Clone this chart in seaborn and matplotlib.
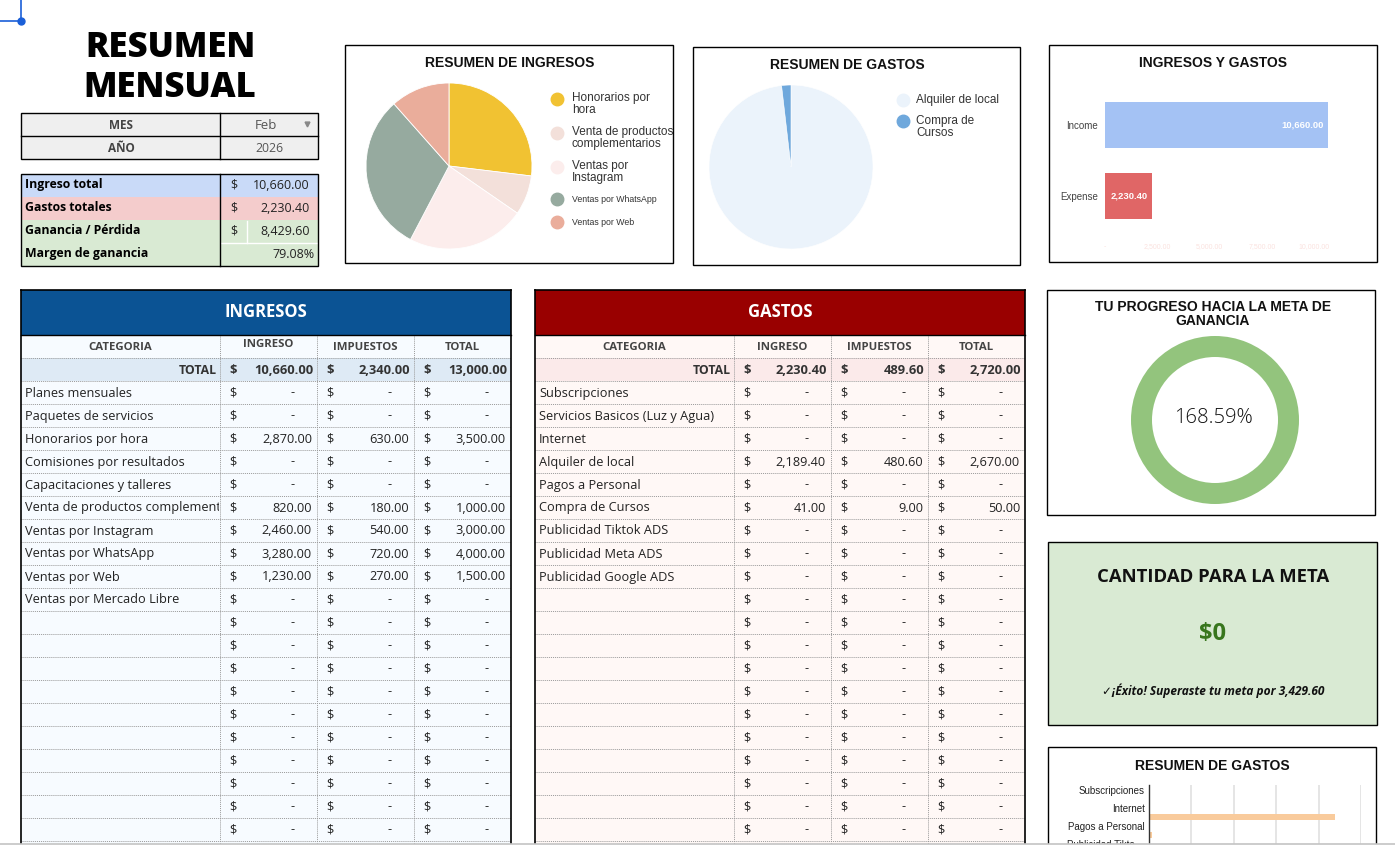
import matplotlib
matplotlib.use("Agg")
import matplotlib.pyplot as plt
from matplotlib.patches import Rectangle
import pandas as pd
import seaborn as sns

W, H = 1395, 850
TFONT = ["Open Sans", "DejaVu Sans"]      # stand-in for Montserrat
CFONT = ["Liberation Sans", "DejaVu Sans"]  # chart font (Arial-like)

# --- data ---
mes = "Feb"
anio = "2026"
meta_ganancia = 5000

ingresos_cats = ["Planes mensuales", "Paquetes de servicios", "Honorarios por hora",
                 "Comisiones por resultados", "Capacitaciones y talleres",
                 "Venta de productos complementarios", "Ventas por Instagram",
                 "Ventas por WhatsApp", "Ventas por Web", "Ventas por Mercado Libre"]
ingresos_ingreso = [0, 0, 2870.00, 0, 0, 820.00, 2460.00, 3280.00, 1230.00, 0]
ingresos_impuestos = [0, 0, 630.00, 0, 0, 180.00, 540.00, 720.00, 270.00, 0]

gastos_cats = ["Subscripciones", "Servicios Basicos (Luz y Agua)", "Internet",
               "Alquiler de local", "Pagos a Personal", "Compra de Cursos",
               "Publicidad Tiktok ADS", "Publicidad Meta ADS", "Publicidad Google ADS"]
gastos_ingreso = [0, 0, 0, 2189.40, 0, 41.00, 0, 0, 0]
gastos_impuestos = [0, 0, 0, 480.60, 0, 9.00, 0, 0, 0]

pie_ing_legend = ["Honorarios por\nhora", "Venta de productos\ncomplementarios",
                  "Ventas por\nInstagram", "Ventas por WhatsApp", "Ventas por Web"]
pie_ing_colors = ["#f1c232", "#f3e0da", "#fcedec", "#96aa9f", "#eaad9b"]
pie_gas_legend = ["Alquiler de local", "Compra de\nCursos"]
pie_gas_colors = ["#ebf3fb", "#6fa8dc"]

bar_labels = ["Income", "Expense"]
bar_colors = ["#a4c2f4", "#e06666"]
bar_ticks = [0, 2500, 5000, 7500, 10000]
gasto_ticks = [0, 500, 1000, 1500, 2000, 2500]

total_ing = sum(ingresos_ingreso)
total_gas = sum(gastos_ingreso)
ganancia = total_ing - total_gas
margen = ganancia / total_ing * 100
progreso = ganancia / meta_ganancia * 100


def money(v):
    return "-" if v == 0 else f"{v:,.2f}"


fig = plt.figure(figsize=(W / 100, H / 100), dpi=100)
bg = fig.add_axes([0, 0, 1, 1], zorder=-1)
bg.set_xlim(0, W)
bg.set_ylim(H, 0)
bg.axis("off")


def px_axes(x0, y0, x1, y1, **kw):
    return fig.add_axes([x0 / W, 1 - y1 / H, (x1 - x0) / W, (y1 - y0) / H], **kw)


def box(x0, y0, x1, y1, fc="none", ec="black", lw=1.0, z=1):
    bg.add_patch(Rectangle((x0, y0), x1 - x0, y1 - y0, facecolor=fc, edgecolor=ec, lw=lw, zorder=z))


def txt(x, y, s, **kw):
    kw.setdefault("family", TFONT)
    kw.setdefault("va", "center")
    kw.setdefault("color", "#222222")
    return bg.text(x, y, s, **kw)


# corner marker
bg.plot([0, 21], [21, 21], color="#1a5fd8", lw=1.2)
bg.plot([21, 21], [0, 21], color="#1a5fd8", lw=1.2)
bg.plot([21], [21], "o", color="#1a5fd8", ms=5)

# --- title ---
txt(170, 48, "RESUMEN", ha="center", fontsize=25, fontweight="heavy", color="black")
txt(170, 88, "MENSUAL", ha="center", fontsize=25, fontweight="heavy", color="black")

# --- mes / año ---
box(21, 113, 318, 159, fc="#efefef", lw=1.0)
bg.plot([21, 318], [136, 136], color="black", lw=1.0)
bg.plot([220, 220], [113, 159], color="black", lw=1.0)
txt(121, 125, "MES", ha="center", fontsize=8.5, fontweight="bold", color="#444444")
txt(121, 148, "AÑO", ha="center", fontsize=8.5, fontweight="bold", color="#444444")
txt(266, 125, mes, ha="center", fontsize=9.5, color="#555555")
txt(269, 148, anio, ha="center", fontsize=8.8, color="#555555")
bg.plot([307], [124], marker="v", color="#888888", ms=3.5)

# --- summary ---
summ_rows = [("Ingreso total", total_ing, "#c9daf8"),
             ("Gastos totales", total_gas, "#f4cccc"),
             ("Ganancia / Pérdida", ganancia, "#d9ead3"),
             ("Margen de ganancia", None, "#d9ead3")]
for i, (lab, val, col) in enumerate(summ_rows):
    ry = 174 + 23 * i
    box(21, ry, 318, ry + 23, fc=col, ec="none", z=0)
    txt(25, ry + 10, lab, fontsize=8.8, fontweight="bold", color="black")
    if val is None:
        txt(315, ry + 11, f"{margen:.2f}%", ha="right", fontsize=9)
    else:
        txt(230, ry + 11, "$", fontsize=9)
        txt(310, ry + 11, f"{val:,.2f}", ha="right", fontsize=9)
bg.plot([247, 247], [221, 243], color="white", lw=1)
bg.plot([221, 318], [243, 243], color="white", lw=1)
box(21, 174, 318, 266, lw=1.0, z=2)
bg.plot([220, 220], [174, 266], color="black", lw=1.0)


# --- big tables ---
def draw_table(cols, title, head_col, body_col, total_col, cats, ing, imp, head_y=(347, 347)):
    x0, x1 = cols[0], cols[-1]
    y0 = 290
    n = 21
    bottom = 381 + 23 * n
    box(x0, y0, x1, y0 + 45, fc=head_col, ec="none", z=0)
    txt((x0 + x1) / 2, y0 + 22, title, ha="center", fontsize=12, fontweight="bold", color="white")
    box(x0, 335, x1, bottom, fc=body_col, ec="none", z=0)
    box(x0, 358, x1, 381, fc=total_col, ec="none", z=0)
    heads = ["CATEGORIA", "INGRESO", "IMPUESTOS", "TOTAL"]
    for j, h in enumerate(heads):
        yy = head_y[0] if j == 1 else head_y[1]
        txt((cols[j] + cols[j + 1]) / 2, yy, h, ha="center", fontsize=8.2, fontweight="bold", color="#444444")
    # dotted grid
    for k in range(n + 2):
        yy = 358 + 23 * k
        bg.plot([x0, x1], [yy, yy], color="#9a9a9a", lw=0.7, ls=(0, (1, 1)))
    for cx in cols[1:-1]:
        bg.plot([cx, cx], [335, bottom], color="#9a9a9a", lw=0.7, ls=(0, (1, 1)))
    # total row
    tot = [sum(ing), sum(imp), sum(ing) + sum(imp)]
    txt(cols[1] - 3, 370, "TOTAL", ha="right", fontsize=8.8, fontweight="bold", color="#333333")
    for j, v in enumerate(tot):
        txt(cols[j + 1] + 9, 370, "$", fontsize=9.3, fontweight="bold", color="#333333")
        txt(cols[j + 2] - 4, 370, money(v), ha="right", fontsize=9.3, fontweight="bold", color="#333333")
    # rows (only those visible above the window edge)
    for i in range(20):
        ry = 381 + 23 * i
        yc = ry + 12
        if i < len(cats):
            t = txt(x0 + 4, yc, cats[i], fontsize=9.2, clip_on=True)
            # long names are cut at the cell edge, like in the sheet
            clip = Rectangle((x0, ry), cols[1] - x0 - 1, 23, transform=bg.transData)
            t.set_clip_path(clip)
            vals = [ing[i], imp[i], ing[i] + imp[i]]
        else:
            vals = [0, 0, 0]
        for j, v in enumerate(vals):
            txt(cols[j + 1] + 9, yc, "$", fontsize=9.2)
            if v == 0:
                txt(cols[j + 2] - 22, yc, "-", ha="right", fontsize=9.2)
            else:
                txt(cols[j + 2] - 5, yc, money(v), ha="right", fontsize=9.2)
    bg.plot([x0, x0], [y0, bottom], color="black", lw=1.2)
    bg.plot([x1, x1], [y0, bottom], color="black", lw=1.2)
    bg.plot([x0, x1], [y0, y0], color="black", lw=1.2)
    bg.plot([x0, x1], [335, 335], color="black", lw=1.0)


draw_table([21, 220, 317, 414, 511], "INGRESOS", "#0b5394", "#f7fbff", "#deeaf5",
           ingresos_cats, ingresos_ingreso, ingresos_impuestos, head_y=(344, 347))
draw_table([535, 734, 831, 928, 1025], "GASTOS", "#990000", "#fff8f6", "#fbeaea",
           gastos_cats, gastos_ingreso, gastos_impuestos)

# --- pie: resumen de ingresos ---
box(345, 45, 673, 263)
txt(510, 63, "RESUMEN DE INGRESOS", ha="center", fontsize=10, fontweight="bold", family=CFONT, color="#111111")
ing_df = pd.DataFrame({"cat": ingresos_cats, "val": ingresos_ingreso})
ing_df = ing_df[ing_df["val"] > 0]
ax = px_axes(366, 83, 532, 249)
ax.pie(ing_df["val"], colors=pie_ing_colors, startangle=90, counterclock=False,
       wedgeprops=dict(edgecolor="white", linewidth=0.6))
ax.set_xlim(-1.0, 1.0)
ax.set_ylim(-1.0, 1.0)
ax.set_aspect("equal")
leg_y = [104, 138, 172, 199, 222]
leg_fs = [8.5, 8.5, 8.5, 6.3, 6.3]
for lab, col, yy, fs in zip(pie_ing_legend, pie_ing_colors, leg_y, leg_fs):
    mk_y = yy - 5 if "\n" in lab else yy
    bg.plot([557], [mk_y], "o", color=col, ms=9)
    txt(572, yy, lab, fontsize=fs, family=CFONT, color="#333333", linespacing=0.95)

# --- pie: resumen de gastos ---
box(693, 47, 1020, 265)
txt(847, 65, "RESUMEN DE GASTOS", ha="center", fontsize=10, fontweight="bold", family=CFONT, color="#111111")
gas_df = pd.DataFrame({"cat": gastos_cats, "val": gastos_ingreso})
gas_df = gas_df[gas_df["val"] > 0]
ax = px_axes(709, 85, 873, 249)
ax.pie(gas_df["val"], colors=pie_gas_colors, startangle=90, counterclock=False,
       wedgeprops=dict(edgecolor="white", linewidth=0.4))
ax.set_xlim(-1.0, 1.0)
ax.set_ylim(-1.0, 1.0)
ax.set_aspect("equal")
for lab, col, yy in zip(pie_gas_legend, pie_gas_colors, [100, 127]):
    mk_y = yy - 6 if "\n" in lab else yy
    bg.plot([903], [mk_y], "o", color=col, ms=9)
    txt(916, yy, lab, fontsize=8.5, family=CFONT, color="#333333", linespacing=0.95)

# --- bar: ingresos y gastos ---
box(1049, 45, 1377, 262)
txt(1213, 63, "INGRESOS Y GASTOS", ha="center", fontsize=10, fontweight="bold", family=CFONT, color="#111111")
bar_df = pd.DataFrame({"tipo": bar_labels, "monto": [total_ing, total_gas]})
xmax = 11200
ax = px_axes(1105, 89.5, 1105 + xmax * 223 / total_ing, 238.6)
sns.barplot(data=bar_df, x="monto", y="tipo", hue="tipo", palette=bar_colors, saturation=1,
            orient="h", width=0.65, legend=False, ax=ax)
ax.set_xlim(0, xmax)
ax.set_ylim(1.6, -0.5)
ax.set_xticks(bar_ticks)
ax.set_xticklabels(["-"] + [f"{t:,.2f}" for t in bar_ticks[1:]], fontsize=5, color="#fbe2df",
                   family=CFONT)
ax.tick_params(length=0, pad=3)
ax.tick_params(axis="y", labelsize=7, labelcolor="#444444", pad=5)
for lb in ax.get_yticklabels():
    lb.set_family(CFONT)
ax.set_xlabel("")
ax.set_ylabel("")
for s in ax.spines.values():
    s.set_visible(False)
ax.patch.set_alpha(0)
for i, v in enumerate(bar_df["monto"]):
    ax.annotate(f"{v:,.2f}", (v, i), xytext=(-3, 0), textcoords="offset points",
                ha="right", va="center", fontsize=6.8, fontweight="bold", color="white", family=CFONT)

# --- progreso donut ---
box(1047, 290, 1375, 515)
txt(1213, 307, "TU PROGRESO HACIA LA META DE", ha="center", fontsize=10, fontweight="bold",
    family=CFONT, color="#111111")
txt(1213, 321, "GANANCIA", ha="center", fontsize=10, fontweight="bold", family=CFONT, color="#111111")
ax = px_axes(1131, 336, 1299, 504)
frac = min(progreso / 100, 1.0)
ax.pie([frac, 1 - frac], colors=["#93c47d", "#e8e8e8"], startangle=90, counterclock=False,
       wedgeprops=dict(width=0.25, edgecolor="none"))
ax.set_xlim(-1.0, 1.0)
ax.set_ylim(-1.0, 1.0)
ax.set_aspect("equal")
txt(1213, 418, f"{progreso:.2f}%", ha="center", fontsize=14.5, fontweight="light", color="#111111")

# --- cantidad para la meta ---
box(1048, 542, 1377, 725, fc="#d9ead3")
txt(1213, 577, "CANTIDAD PARA LA META", ha="center", fontsize=13.3, fontweight="bold", color="#111111")
faltante = max(meta_ganancia - ganancia, 0)
txt(1213, 634, f"${faltante:,.0f}", ha="center", fontsize=17, fontweight="bold", color="#38761d")
txt(1213, 691, f"✓¡Éxito! Superaste tu meta por {ganancia - meta_ganancia:,.2f}", ha="center",
    fontsize=8.6, fontweight="bold", style="italic", color="#111111")

# --- resumen de gastos (bar) ---
box(1048, 747, 1376, 870)
txt(1212, 766, "RESUMEN DE GASTOS", ha="center", fontsize=10, fontweight="bold", family=CFONT, color="#111111")
g_df = pd.DataFrame({"cat": gastos_cats, "val": gastos_ingreso})
ax = px_axes(1149, 785, 1361, 866.5)
sns.barplot(data=g_df, x="val", y="cat", color="#f9cb9c", saturation=1, orient="h", width=0.7, ax=ax)
ax.set_xlim(0, gasto_ticks[-1])
ax.set_ylim(8.5, -0.556)
ax.set_xticks(gasto_ticks)
ax.set_xticklabels([])
ax.grid(axis="x", color="#e0e0e0", lw=1.2)
ax.set_axisbelow(True)
ax.set_yticks(range(len(gastos_cats)))
short = [c if len(c) <= 17 else c[:16] + "…" for c in gastos_cats]
ax.set_yticklabels([s if i % 2 == 0 else "" for i, s in enumerate(short)], fontsize=7,
                   color="#222222", family=CFONT)
ax.tick_params(length=0, pad=3)
ax.set_xlabel("")
ax.set_ylabel("")
for k in ["top", "right", "bottom"]:
    ax.spines[k].set_visible(False)
ax.spines["left"].set_color("#333333")
ax.spines["left"].set_linewidth(1.0)
ax.patch.set_alpha(0)

# window edge at the bottom
ov = fig.add_axes([0, 0, 1, 1], zorder=20)
ov.set_xlim(0, W)
ov.set_ylim(H, 0)
ov.axis("off")
ov.add_patch(Rectangle((0, 844), W, 6, facecolor="white", edgecolor="none"))
ov.plot([0, W], [844, 844], color="#c4c4c4", lw=1.2)

fig.savefig("out.png", dpi=100)
